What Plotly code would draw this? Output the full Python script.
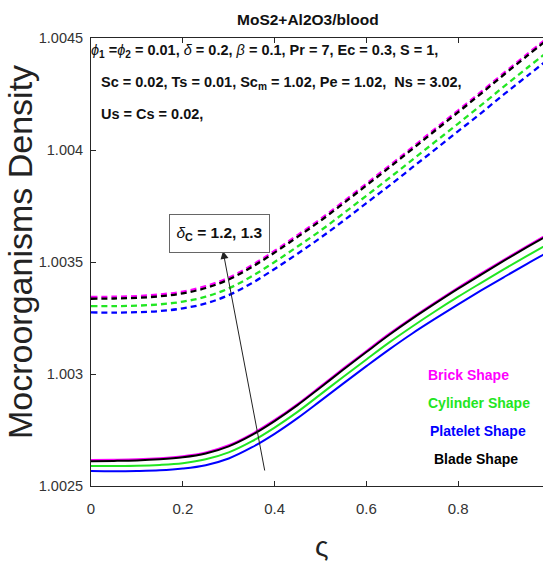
import plotly.graph_objects as go

# ---------------- data ----------------
x = [0.00, 0.05, 0.10, 0.15, 0.20, 0.25, 0.30, 0.35, 0.40, 0.45, 0.50,
     0.55, 0.60, 0.65, 0.70, 0.75, 0.80, 0.85, 0.90, 0.95, 1.00]

# delta_C = 1.2 (solid)
brick_solid = [1.002616, 1.002617, 1.002619, 1.002624, 1.002633, 1.002650, 1.002682,
               1.002732, 1.002795, 1.002866, 1.002945, 1.003025, 1.003103, 1.003180,
               1.003252, 1.003320, 1.003386, 1.003449, 1.003511, 1.003571, 1.003630]
cylinder_solid = [1.002589, 1.002589, 1.002590, 1.002594, 1.002602, 1.002619, 1.002650,
                  1.002699, 1.002761, 1.002831, 1.002909, 1.002988, 1.003065, 1.003141,
                  1.003212, 1.003280, 1.003345, 1.003407, 1.003468, 1.003527, 1.003585]
platelet_solid = [1.002567, 1.002566, 1.002567, 1.002570, 1.002578, 1.002593, 1.002623,
                  1.002672, 1.002733, 1.002803, 1.002880, 1.002958, 1.003035, 1.003110,
                  1.003181, 1.003247, 1.003311, 1.003373, 1.003433, 1.003492, 1.003549]
blade_solid = [1.002611, 1.002612, 1.002614, 1.002619, 1.002628, 1.002645, 1.002677,
               1.002727, 1.002790, 1.002861, 1.002940, 1.003020, 1.003098, 1.003175,
               1.003247, 1.003315, 1.003381, 1.003444, 1.003506, 1.003566, 1.003625]

# delta_C = 1.3 (dashed)
brick_dash = [1.003344, 1.003345, 1.003348, 1.003355, 1.003368, 1.003392, 1.003430,
              1.003485, 1.003550, 1.003620, 1.003692, 1.003770, 1.003850, 1.003930,
              1.004012, 1.004095, 1.004177, 1.004260, 1.004345, 1.004428, 1.004510]
cylinder_dash = [1.003303, 1.003303, 1.003305, 1.003311, 1.003323, 1.003345, 1.003382,
                 1.003436, 1.003500, 1.003569, 1.003640, 1.003717, 1.003796, 1.003875,
                 1.003956, 1.004037, 1.004118, 1.004200, 1.004284, 1.004366, 1.004447]
platelet_dash = [1.003275, 1.003274, 1.003276, 1.003281, 1.003293, 1.003315, 1.003352,
                 1.003405, 1.003469, 1.003537, 1.003608, 1.003684, 1.003763, 1.003841,
                 1.003922, 1.004003, 1.004084, 1.004165, 1.004249, 1.004330, 1.004411]
blade_dash = [1.003336, 1.003337, 1.003340, 1.003347, 1.003360, 1.003384, 1.003422,
              1.003477, 1.003542, 1.003612, 1.003684, 1.003762, 1.003842, 1.003922,
              1.004004, 1.004087, 1.004169, 1.004252, 1.004337, 1.004420, 1.004502]

x_ticks = [0, 0.2, 0.4, 0.6, 0.8]
x_ticklabels = ["0", "0.2", "0.4", "0.6", "0.8"]
y_ticks = [1.0025, 1.003, 1.0035, 1.004, 1.0045]
y_ticklabels = ["1.0025", "1.003", "1.0035", "1.004", "1.0045"]

shape_names = ["Brick Shape", "Cylinder Shape", "Platelet Shape", "Blade Shape"]
shape_colors = ["#ff00ff", "#22e622", "#0000ff", "#000000"]

# ---------------- figure ----------------
W, H = 543, 563
ML, MR, MT, MB = 91, 0, 38, 77
PW = W - ML - MR
PH = H - MT - MB
XMAX = PW / 459.0

SANS = "Liberation Sans, Arial, sans-serif"

fig = go.Figure()

solid = [brick_solid, cylinder_solid, platelet_solid, blade_solid]
dashed = [brick_dash, cylinder_dash, platelet_dash, blade_dash]
for ys, c in zip(dashed, shape_colors):
    fig.add_trace(go.Scatter(x=x, y=ys, mode="lines",
                             line=dict(color=c, width=2.3, dash="6px,4px", shape="spline"),
                             showlegend=False, hoverinfo="skip"))
for ys, c in zip(solid, shape_colors):
    fig.add_trace(go.Scatter(x=x, y=ys, mode="lines", line=dict(color=c, width=2, shape="spline"),
                             showlegend=False, hoverinfo="skip"))


def px2x(px):
    return (px - ML) / PW


def py2y(py):
    return (MT + PH - py) / PH


annotations = []

# title
annotations.append(dict(text="<b>MoS2+Al2O3/blood</b>", x=px2x(308), y=py2y(19), xref="paper", yref="paper",
                        showarrow=False, font=dict(family=SANS, size=15.5, color="#111"),
                        xanchor="center", yanchor="middle"))

# parameter lines
pfont = dict(family=SANS, size=14.5, color="#111")
annotations.append(dict(
    text="<i>ϕ</i><b><sub>1</sub> =</b><i>ϕ</i><b><sub>2</sub> = 0.01, </b><i>δ</i><b> = 0.2, </b><i>β</i><b> = 0.1, Pr = 7, Ec = 0.3, S = 1,</b>",
    x=px2x(89), y=py2y(51), xref="paper", yref="paper", showarrow=False, font=pfont,
    xanchor="left", yanchor="middle"))
annotations.append(dict(
    text="<b>Sc = 0.02, Ts = 0.01, Sc<sub>m</sub> = 1.02, Pe = 1.02,  Ns = 3.02,</b>",
    x=px2x(99), y=py2y(83), xref="paper", yref="paper", showarrow=False, font=pfont,
    xanchor="left", yanchor="middle"))
annotations.append(dict(
    text="<b>Us = Cs = 0.02,</b>",
    x=px2x(99), y=py2y(114), xref="paper", yref="paper", showarrow=False, font=pfont,
    xanchor="left", yanchor="middle"))

# arrow
annotations.append(dict(text="", x=px2x(223), y=py2y(251), ax=px2x(265), ay=py2y(472),
                        xref="x domain", yref="y domain", axref="x domain", ayref="y domain",
                        showarrow=True, arrowhead=2, arrowsize=1.6, arrowwidth=1, arrowcolor="#222"))

# delta_C box
annotations.append(dict(text="<i>δ</i><b><sub>C</sub> = 1.2, 1.3</b>", x=px2x(219.5), y=py2y(233.5),
                        xref="paper", yref="paper", showarrow=False,
                        font=dict(family=SANS, size=15.5, color="#111"),
                        xanchor="center", yanchor="middle", width=97, height=35, borderpad=1,
                        bordercolor="#666", borderwidth=1, bgcolor="white"))

# shape labels
label_pos = [(468.5, 375), (478.5, 403), (478, 431), (475.5, 459)]
for name, c, (lx, ly) in zip(shape_names, shape_colors, label_pos):
    annotations.append(dict(text="<b>" + name + "</b>", x=px2x(lx), y=py2y(ly), xref="paper", yref="paper",
                            showarrow=False, font=dict(family=SANS, size=14, color=c),
                            xanchor="center", yanchor="middle"))

# axis titles
annotations.append(dict(text="ς", x=px2x(322), y=py2y(546), xref="paper", yref="paper", showarrow=False,
                        font=dict(family=SANS, size=28, color="#222"), xanchor="center", yanchor="middle"))
annotations.append(dict(text="Mocroorganisms Density", x=px2x(20), y=py2y(252), xref="paper", yref="paper",
                        showarrow=False, textangle=-90,
                        font=dict(family=SANS, size=34, color="#222"), xanchor="center", yanchor="middle"))

fig.update_layout(
    width=W, height=H,
    margin=dict(l=ML, r=MR, t=MT, b=MB),
    paper_bgcolor="white", plot_bgcolor="white",
    showlegend=False,
    annotations=annotations,
    xaxis=dict(range=[0, XMAX], tickvals=x_ticks, ticktext=x_ticklabels,
               showgrid=False, zeroline=False, showline=True, linecolor="#262626", linewidth=1,
               mirror="ticks", ticks="inside", ticklen=5, tickcolor="#262626",
               ticklabelstandoff=9,
               tickfont=dict(family=SANS, size=15, color="#333")),
    yaxis=dict(range=[1.0025, 1.0045], tickvals=y_ticks, ticktext=y_ticklabels,
               showgrid=False, zeroline=False, showline=True, linecolor="#262626", linewidth=1,
               mirror=False, ticks="inside", ticklen=5, tickcolor="#262626",
               ticklabelstandoff=4,
               tickfont=dict(family=SANS, size=14.5, color="#333")),
)

fig.write_html("out.html")
